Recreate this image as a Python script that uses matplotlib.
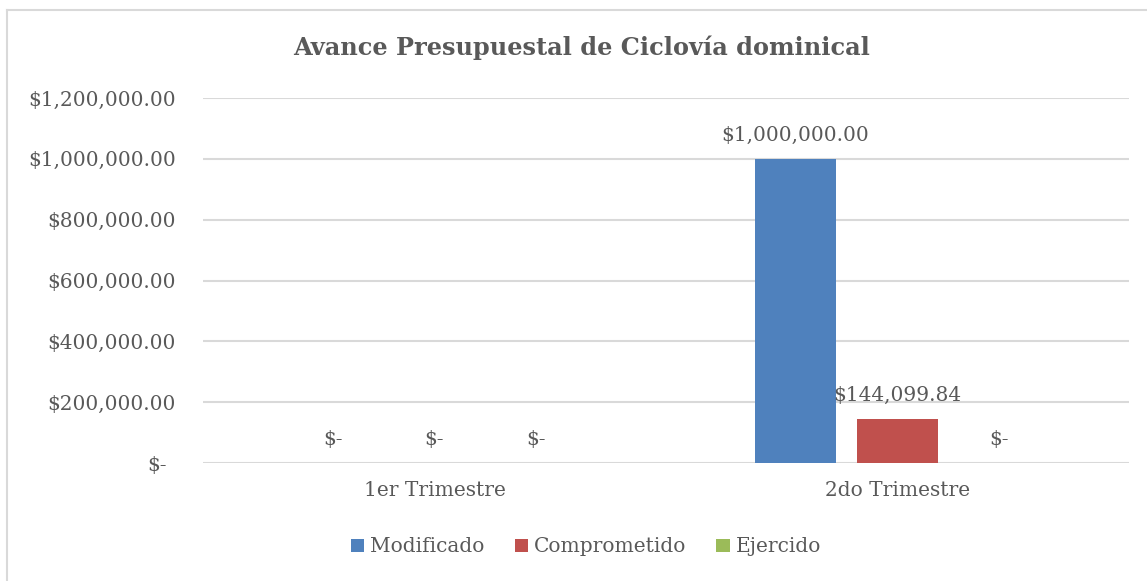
import matplotlib
matplotlib.use("Agg")
import matplotlib.pyplot as plt
from matplotlib.lines import Line2D
from matplotlib.patches import Patch
from matplotlib.transforms import ScaledTranslation
import numpy as np

categories = ["1er Trimestre", "2do Trimestre"]
series_names = ["Modificado", "Comprometido", "Ejercido"]
modificado = [0, 1000000.00]
comprometido = [0, 144099.84]
ejercido = [0, 0]
yticks = [0, 200000, 400000, 600000, 800000, 1000000, 1200000]
title = "Avance Presupuestal de Ciclovía dominical"

colors = ["#4F81BD", "#C0504D", "#9BBB59"]
text_color = "#595959"
grid_color = "#D9D9D9"

plt.rcParams["font.family"] = ["DejaVu Serif"]

W, H = 1147, 581
fig = plt.figure(figsize=(W / 100, H / 100), dpi=100)

def fx(px):
    return px / W

def fy(py):
    return 1 - py / H

ax = fig.add_axes([fx(203), fy(463), fx(1129) - fx(203), fy(98) - fy(463)])

def fmt(v):
    if v == 0:
        return "$-"
    return "${:,.2f}".format(v)

FS = 14.5
x = np.arange(len(categories))
offset = 0.2203
width = 0.175
all_series = [modificado, comprometido, ejercido]
for i, (vals, c) in enumerate(zip(all_series, colors)):
    pos = x + (i - 1) * offset
    ax.bar(pos, vals, width=width, color=c, zorder=3)
    for p, v in zip(pos, vals):
        ax.annotate(fmt(v), (p, v), xytext=(0, 10), textcoords="offset points",
                    ha="center", va="bottom", fontsize=FS, color=text_color)

ax.set_xlim(-0.5, 1.5)
ax.set_ylim(0, 1200000)
ax.set_yticks(yticks)
ax.set_yticklabels([fmt(v) for v in yticks], fontsize=FS, color=text_color)
ax.set_xticks(x)
ax.set_xticklabels(categories, fontsize=FS, color=text_color)
ax.tick_params(axis="both", length=0)
ax.tick_params(axis="y", pad=19.5)
ax.tick_params(axis="x", pad=13)
ax.yaxis.grid(True, color=grid_color, linewidth=1.5, zorder=0)
ax.set_axisbelow(True)
for s in ax.spines.values():
    s.set_visible(False)

# accounting-style padding for the "$-" tick label
zero_lbl = ax.get_yticklabels()[0]
zero_lbl.set_transform(zero_lbl.get_transform() + ScaledTranslation(-9 / 100, 0, fig.dpi_scale_trans))

fig.text(fx(582), fy(48), title, ha="center", va="center", fontsize=17.3,
         fontweight="bold", color=text_color)

handles = [Patch(facecolor=c, edgecolor="none") for c in colors]
fig.legend(handles, series_names, loc="center", bbox_to_anchor=(fx(586), fy(547)),
           ncol=3, frameon=False, fontsize=FS, labelcolor=text_color,
           handlelength=0.65, handleheight=0.65, handletextpad=0.3, columnspacing=1.5)

# outer chart frame (only left and top visible)
fig.add_artist(Line2D([fx(6.5), fx(6.5)], [fy(10), 0], color=grid_color, linewidth=1.5))
fig.add_artist(Line2D([fx(6.5), 1], [fy(10), fy(10)], color=grid_color, linewidth=1.5))

fig.savefig("out.png", dpi=100)
